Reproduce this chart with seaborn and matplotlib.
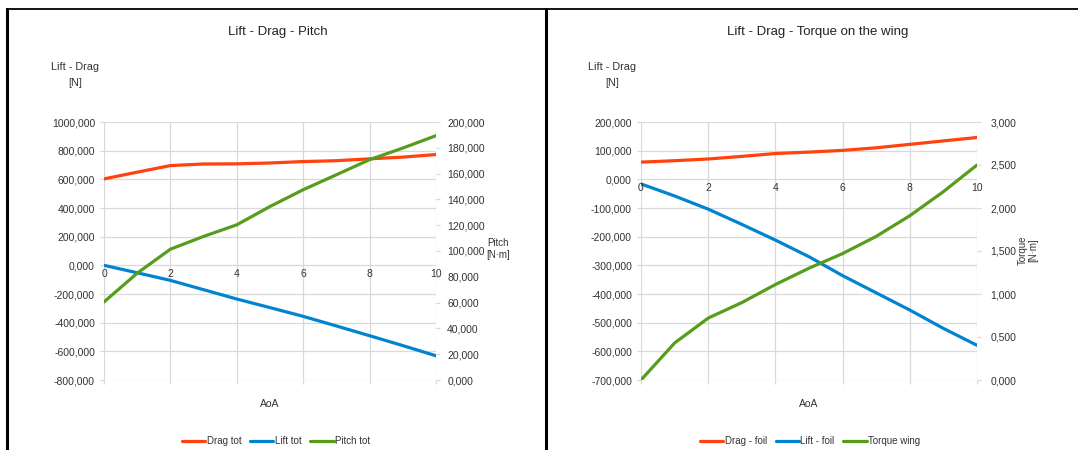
import numpy as np
import pandas as pd
import seaborn as sns
import matplotlib
matplotlib.use("Agg")
import matplotlib.pyplot as plt
from matplotlib.lines import Line2D

# ---- data -------------------------------------------------------------
aoa = [0, 1, 2, 3, 4, 5, 6, 7, 8, 9, 10]

drag_tot = [603, 650, 696, 707, 708, 714, 724, 730, 743, 755, 773]
lift_tot = [0, -52, -105, -170, -235, -295, -356, -423, -491, -560, -631]
pitch_tot = [60.5, 82.8, 101.4, 111.3, 120.3, 134.5, 147.5, 159.1, 170.8, 179.8, 189.4]

drag_foil = [60, 65, 71, 80, 90, 95, 101, 110, 122, 134, 146]
lift_foil = [-16, -58, -104, -157, -212, -270, -336, -396, -456, -520, -579]
torque_wing = [0.0, 0.43, 0.72, 0.90, 1.11, 1.30, 1.47, 1.67, 1.91, 2.19, 2.50]

x_ticks = [0, 2, 4, 6, 8, 10]
left_force_ticks = list(range(-800, 1001, 200))
pitch_ticks = list(range(0, 201, 20))
right_force_ticks = list(range(-700, 201, 100))
torque_ticks = [0.0, 0.5, 1.0, 1.5, 2.0, 2.5, 3.0]

# ---- style ------------------------------------------------------------
sns.set_style("white")
FONT = ["Liberation Sans", "DejaVu Sans"]
plt.rcParams["font.family"] = FONT
plt.rcParams["axes.unicode_minus"] = False

ORANGE = "#ff420e"
BLUE = "#0084d1"
GREEN = "#579d1c"
GRID = "#d9d9d9"
TEXT = "#333333"
LW = 2.3
TICK_FS = 7.5


def fmt(v):
    return f"{v:.3f}".replace(".", ",")


fig = plt.figure(figsize=(10.78, 4.5), dpi=100)
W, H = 1078.0, 450.0


def px_axes(x0, x1, y0, y1):
    return fig.add_axes([x0 / W, 1 - y1 / H, (x1 - x0) / W, (y1 - y0) / H])


def build(ax, series_left, series_right, yl_ticks, yr_ticks, rpad_px):
    df = pd.DataFrame({"AoA": aoa})
    handles = []
    for name, vals, col in series_left:
        df[name] = vals
        sns.lineplot(data=df, x="AoA", y=name, ax=ax, color=col, lw=LW,
                     label=name, legend=False)
    ax2 = ax.twinx()
    for name, vals, col in series_right:
        df[name] = vals
        sns.lineplot(data=df, x="AoA", y=name, ax=ax2, color=col, lw=LW,
                     label=name, legend=False)
    for name, _, col in series_left + series_right:
        handles.append(Line2D([0], [0], color=col, lw=LW, label=name))

    ax.set_xlim(0, 10)
    ax.set_ylim(yl_ticks[0], yl_ticks[-1])
    ax2.set_ylim(yr_ticks[0], yr_ticks[-1])
    ax.set_yticks(yl_ticks)
    ax.set_yticklabels([fmt(v) for v in yl_ticks])
    ax2.set_yticks(yr_ticks)
    ax2.set_yticklabels([fmt(v) for v in yr_ticks])
    ax.set_xticks(x_ticks)
    ax.set_xticklabels([])
    ax.grid(True, color=GRID, lw=0.9)
    ax.set_axisbelow(True)
    ax2.grid(False)
    for a in (ax, ax2):
        for s in a.spines.values():
            s.set_visible(False)
    ax.tick_params(axis="y", length=3, color=GRID, width=0.9, pad=3.5,
                   labelsize=TICK_FS, labelcolor=TEXT)
    ax.tick_params(axis="x", length=3, color=GRID, width=0.9, bottom=True)
    ax2.tick_params(axis="y", length=3, color=GRID, width=0.9,
                    pad=rpad_px * 0.72, labelsize=TICK_FS, labelcolor=TEXT)
    ax.set_ylabel("")
    ax2.set_ylabel("")
    ax.set_xlabel("AoA", fontsize=TICK_FS, color=TEXT, labelpad=7)

    # category labels sit on the zero line of the force axis
    for v in x_ticks:
        ax.annotate(str(v), xy=(v, 0), xytext=(0, -2.5),
                    textcoords="offset points", ha="center", va="top",
                    fontsize=TICK_FS, color=TEXT, annotation_clip=False)
    return ax2, handles


# ---- left chart: lift, drag, pitch ------------------------------------
axL = px_axes(104, 436, 122, 380)
_, hL = build(axL,
              [("Drag tot", drag_tot, ORANGE), ("Lift tot", lift_tot, BLUE)],
              [("Pitch tot", pitch_tot, GREEN)],
              left_force_ticks, pitch_ticks, 7)

# ---- right chart: lift, drag, wing torque -----------------------------
axR = px_axes(641, 977, 122, 380)
_, hR = build(axR,
              [("Drag - foil", drag_foil, ORANGE), ("Lift - foil", lift_foil, BLUE)],
              [("Torque wing", torque_wing, GREEN)],
              right_force_ticks, torque_ticks, 9)

# ---- titles and axis captions -----------------------------------------
fig.text(278 / W, 1 - 32 / H, "Lift - Drag - Pitch", ha="center", va="center",
         fontsize=9.5, color="#222222")
fig.text(818 / W, 1 - 32 / H, "Lift - Drag - Torque on the wing", ha="center",
         va="center", fontsize=9.5, color="#222222")

narrow = ["Liberation Sans Narrow", "Liberation Sans", "DejaVu Sans"]
for xc in (75, 612):
    fig.text(xc / W, 1 - 75 / H, "Lift - Drag\n[N]", ha="center", va="center",
             multialignment="center", fontsize=7.8, color=TEXT, family=narrow,
             linespacing=1.8)

fig.text(498 / W, 1 - 249 / H, "Pitch\n[N·m]", ha="center", va="center",
         multialignment="center", fontsize=7, color=TEXT, linespacing=1.15)
fig.text(1028 / W, 1 - 250 / H, "Torque\n[N·m]", ha="center", va="center",
         multialignment="center", fontsize=7, color=TEXT, rotation=90,
         linespacing=1.15)

# ---- legends ----------------------------------------------------------
for hs, xc in ((hL, 276), (hR, 810)):
    fig.legend(handles=hs, loc="center", bbox_to_anchor=(xc / W, 1 - 441 / H),
               ncol=3, frameon=False, fontsize=7, handlelength=2.4,
               handletextpad=0.15, columnspacing=0.9, labelcolor=TEXT)

# ---- table frame around the two charts --------------------------------
frame = dict(color="black", transform=fig.transFigure, solid_capstyle="butt")
fig.add_artist(Line2D([6 / W, 1.0], [1 - 8.5 / H, 1 - 8.5 / H], lw=1.3, **frame))
fig.add_artist(Line2D([7 / W, 7 / W], [0, 1 - 8 / H], lw=2.2, **frame))
fig.add_artist(Line2D([546 / W, 546 / W], [0, 1 - 8 / H], lw=2.2, **frame))

fig.savefig("out.png", dpi=100, facecolor="white")
